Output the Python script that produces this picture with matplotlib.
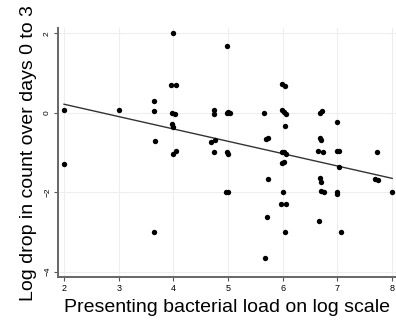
import numpy as np
import matplotlib.pyplot as plt

plt.rcParams['font.family'] = ['Liberation Sans', 'DejaVu Sans']

# presenting bacterial load (log) vs log drop over days 0-3
load = [2.0, 2.0, 3.0,
        3.65, 3.65, 3.66, 3.65,
        4.0, 3.95, 4.05, 3.97, 4.02, 3.98, 4.0, 4.0, 4.05,
        4.74, 4.74, 4.69, 4.76, 4.74,
        4.98, 5.0, 5.03, 4.98, 4.98, 5.0, 4.96, 5.0,
        5.66, 5.7, 5.73, 5.73, 5.71, 5.67,
        5.99, 6.04, 5.98, 6.02, 6.05, 6.04, 5.98, 6.02, 6.05, 5.99, 6.03, 6.0, 5.97, 6.06, 6.04,
        6.68, 6.72, 6.68, 6.7, 6.64, 6.73, 6.68, 6.7, 6.7, 6.76, 6.66,
        7.0, 6.99, 7.03, 7.03, 6.99, 6.99, 7.06,
        7.72, 7.69, 7.74,
        8.0]
drop = [0.07, -1.3, 0.07,
        0.3, 0.04, -0.72, -3.0,
        2.0, 0.7, 0.7, 0.0, -0.04, -0.28, -0.35, -1.05, -0.97,
        0.06, -0.04, -0.74, -0.68, -0.98,
        1.67, 0.01, -0.01, 0.0, -1.0, -1.05, -2.0, -2.0,
        0.0, -0.67, -0.64, -1.68, -2.63, -3.66,
        0.72, 0.67, 0.06, 0.01, -0.04, -0.33, -0.98, -1.0, -1.03, -1.27, -1.25, -2.0, -2.3, -2.3, -3.0,
        0.0, 0.05, -0.64, -0.7, -0.97, -1.0, -1.65, -1.75, -1.97, -2.0, -2.73,
        -0.24, -0.97, -0.97, -1.37, -2.0, -2.05, -3.0,
        -1.0, -1.67, -1.7,
        -2.0]
xticks = [2, 3, 4, 5, 6, 7, 8]
yticks = [-4, -2, 0, 2]

load = np.array(load)
drop = np.array(drop)

fig = plt.figure(figsize=(3.96, 3.26), dpi=100)
ax = fig.add_axes([0.1465, 0.150, 0.8535, 0.764])

ax.grid(True, color='#eeeeee', lw=0.8)
ax.set_axisbelow(True)

ax.scatter(load, drop, s=15, color='black', zorder=3, linewidths=0)

# linear fit
b, a = np.polyfit(load, drop, 1)
xs = np.array([2.0, 8.0])
ax.plot(xs, a + b * xs, color='#333333', lw=1.0, zorder=2)

ax.set_xlim(1.89, 8.07)
ax.set_ylim(-4.14, 2.13)
ax.set_xticks(xticks)
ax.set_yticks(yticks)
ax.tick_params(axis='x', labelsize=6.5, length=3, color='#555555', pad=2)
ax.tick_params(axis='y', labelsize=6, length=3, color='#555555', pad=2)
for lab in ax.get_yticklabels():
    lab.set_rotation(90)
    lab.set_va('center')

for s in ['top', 'right']:
    ax.spines[s].set_visible(False)
for s in ['left', 'bottom']:
    ax.spines[s].set_color('#666666')
    ax.spines[s].set_linewidth(1.4)

ax.set_xlabel('Presenting bacterial load on log scale', fontsize=14, labelpad=4)
ax.set_ylabel('Log drop in count over days 0 to 3', fontsize=14, labelpad=5)

fig.savefig('out.png', dpi=100)
